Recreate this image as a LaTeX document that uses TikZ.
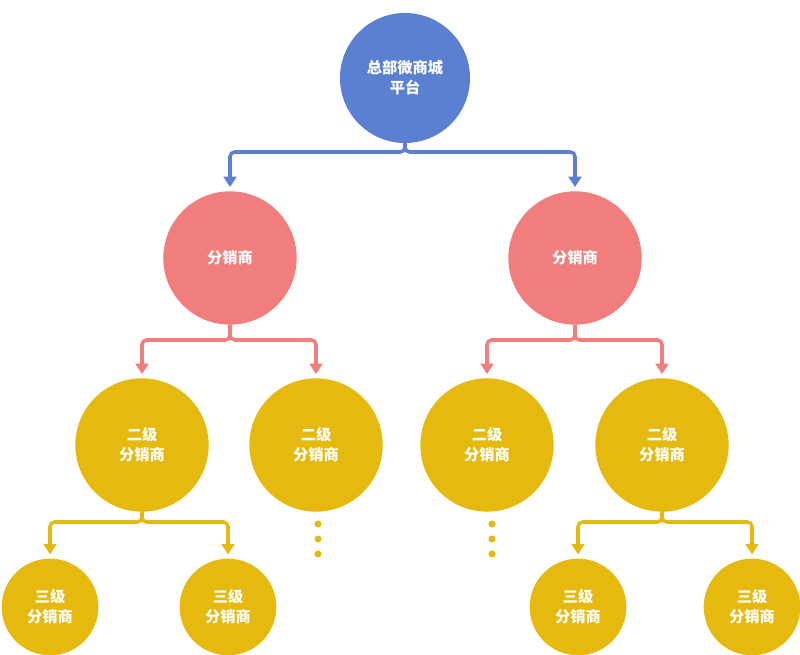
\documentclass[tikz,border=0pt]{standalone}
\usepackage{fontspec}
\setmainfont{Noto Sans CJK SC}
\usetikzlibrary{calc,arrows.meta}
\definecolor{hq}{HTML}{5B80D2}
\definecolor{dist}{HTML}{F27D7D}
\definecolor{sub}{HTML}{E6B90E}
\tikzset{
  ball/.style={circle,inner sep=0pt,text=white,font=\bfseries\fontsize{13}{17}\selectfont,align=center},
  link/.style={line width=3pt,rounded corners=4pt,-{Triangle[length=9pt,width=11pt]}},
  dots/.style={fill=sub,draw=none},
}
\begin{document}
\begin{tikzpicture}[x=0.03cm,y=-0.03cm]
\useasboundingbox (0,0) rectangle (800,655);
\node[ball,fill=hq,minimum size=3.9cm](T) at(405,78){总部微商城\\平台};
\node[ball,fill=dist,minimum size=4cm](L) at(230,258){分销商};
\node[ball,fill=dist,minimum size=4cm](R) at(575,258){分销商};
\foreach \n/\x in{LL/142,LR/316,RL/487,RR/662}
\node[ball,fill=sub,minimum size=4cm](\n) at(\x,445){二级\\分销商};
\foreach \n/\x in{LLa/50,LLb/228,RRa/578,RRb/752}
\node[ball,fill=sub,minimum size=2.9cm](\n) at(\x,607){三级\\分销商};
% connectors
\foreach \a/\b/\c/\y in{T/L/hq/152,T/R/hq/152,L/LL/dist/340,L/LR/dist/340,R/RL/dist/340,R/RR/dist/340,LL/LLa/sub/522,LL/LLb/sub/522,RR/RRa/sub/522,RR/RRb/sub/522}
\draw[link,draw=\c] (\a.south) |- ($(\a.south)!1!(\a.south|-0,\y)$) -| ($(\b.north)+(0,-4)$);
% dots
\foreach \x in{318,492}
\foreach \y in{524,539,554}
\fill[dots] (\x,\y) circle (3pt);
\end{tikzpicture}
\end{document}
